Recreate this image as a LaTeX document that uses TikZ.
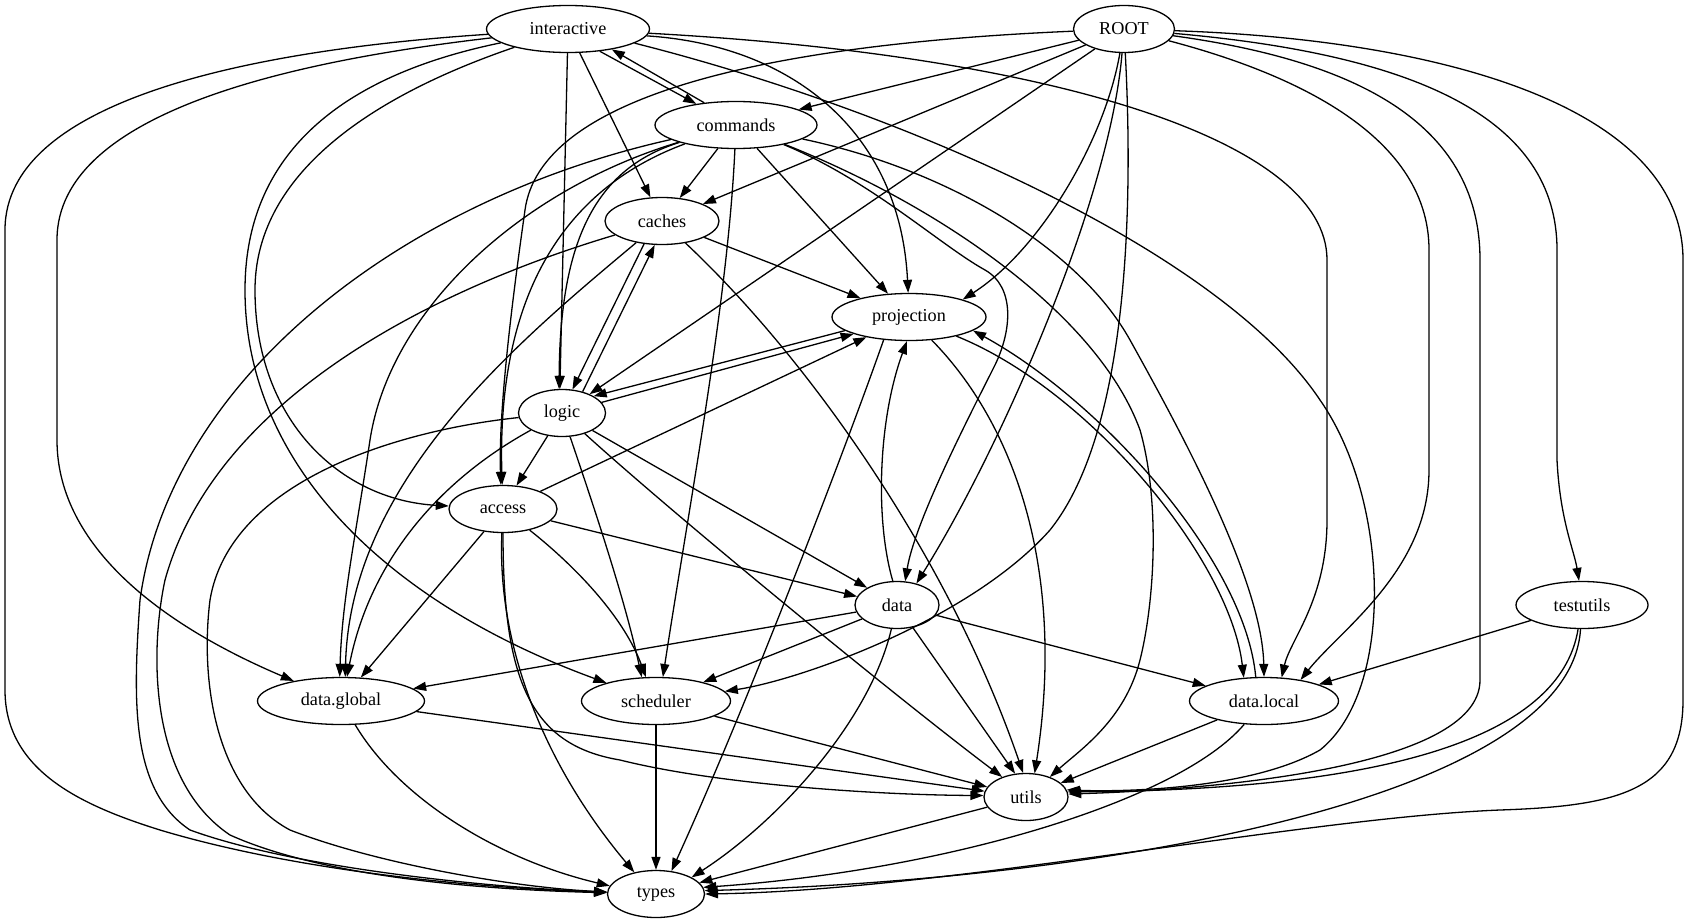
\documentclass[tikz,border=0pt]{standalone}
\usepackage{fontspec}
\setmainfont{Liberation Serif}
\usetikzlibrary{shapes.geometric,arrows.meta}
\begin{document}
\begin{tikzpicture}[x=1pt,y=-1pt,
  nd/.style={draw, ellipse, line width=1.3pt, minimum height=47pt, inner sep=0pt, font=\fontsize{18.2}{22}\selectfont},
  e/.style={line width=1.3pt, -{Triangle[length=13pt,width=9pt]}}]
\useasboundingbox (0,0) rectangle (1691,923);
% nodes
\node[nd, minimum width=163pt] (interactive) at (568,29) {interactive};
\node[nd, minimum width=101pt] (ROOT) at (1124,29) {ROOT};
\node[nd, minimum width=162pt] (commands) at (736,125) {commands};
\node[nd, minimum width=114pt] (caches) at (662,221) {caches};
\node[nd, minimum width=154pt] (projection) at (909,317) {projection};
\node[nd, minimum width=87pt] (logic) at (562,413) {logic};
\node[nd, minimum width=108pt] (access) at (503,509) {access};
\node[nd, minimum width=84pt] (data) at (897,605) {data};
\node[nd, minimum width=132pt] (testutils) at (1582,605) {testutils};
\node[nd, minimum width=167pt] (dglobal) at (341,701) {data.global};
\node[nd, minimum width=149pt] (scheduler) at (656,701) {scheduler};
\node[nd, minimum width=149pt] (dlocal) at (1264,701) {data.local};
\node[nd, minimum width=84pt] (utils) at (1026,797) {utils};
\node[nd, minimum width=97pt] (types) at (656,894) {types};
% interactive
\draw[e] (interactive) .. controls (250,50) and (5,100) .. (5,230) -- (5,690) .. controls (5,770) and (80,805) .. (160,830) .. controls (300,872) and (480,888) .. (types);
\draw[e] (interactive) .. controls (300,60) and (57,110) .. (57,240) -- (57,440) .. controls (57,540) and (150,620) .. (dglobal);
\draw[e] (interactive) .. controls (360,100) and (255,180) .. (255,290) .. controls (255,420) and (340,500) .. (access);
\draw[e] (interactive) .. controls (320,80) and (245,170) .. (245,290) .. controls (245,460) and (380,600) .. (scheduler);
\draw[e] (interactive) -- (logic.95);
\draw[e] (interactive) -- (caches);
\draw[e] (interactive.-35) -- (commands.152);
\draw[e] (commands.145) -- (interactive.-25);
\draw[e] (interactive.-5) .. controls (790,45) and (900,130) .. (projection.92);
\draw[e] (interactive.-3) .. controls (1050,55) and (1327,140) .. (1327,260) -- (1327,520) .. controls (1327,600) and (1290,640) .. (dlocal.53);
\draw[e] (interactive.-12) .. controls (900,110) and (1220,250) .. (1320,400) .. controls (1390,500) and (1395,690) .. (1320,750) .. controls (1250,790) and (1120,792) .. (utils.10);
% ROOT
\draw[e] (ROOT) -- (commands);
\draw[e] (ROOT) -- (caches);
\draw[e] (ROOT) .. controls (750,45) and (540,100) .. (525,210) .. controls (518,260) and (498,400) .. (access.95);
\draw[e] (ROOT) -- (logic);
\draw[e] (ROOT) .. controls (1105,140) and (1040,250) .. (projection.18);
\draw[e] (ROOT) .. controls (1110,200) and (1000,450) .. (data.48);
\draw[e] (ROOT) .. controls (1133,200) and (1130,430) .. (1050,530) .. controls (970,620) and (800,680) .. (scheduler.8);
\draw[e] (ROOT) .. controls (1280,70) and (1429,130) .. (1429,250) -- (1429,470) .. controls (1429,570) and (1340,630) .. (dlocal.30);
\draw[e] (ROOT) .. controls (1350,60) and (1480,120) .. (1480,260) -- (1480,680) .. controls (1480,770) and (1200,790) .. (utils.4);
\draw[e] (ROOT) .. controls (1420,55) and (1557,120) .. (1557,250) -- (1557,460) .. controls (1560,520) and (1574,550) .. (testutils.97);
\draw[e] (ROOT) .. controls (1450,40) and (1683,110) .. (1683,260) -- (1683,700) .. controls (1683,790) and (1620,806) .. (1500,810) .. controls (1300,818) and (950,890) .. (types.0);
% commands
\draw[e] (commands) -- (caches);
\draw[e] (commands) .. controls (400,200) and (170,380) .. (140,600) .. controls (133,700) and (130,790) .. (190,830) .. controls (300,870) and (500,888) .. (types);
\draw[e] (commands) .. controls (520,190) and (390,310) .. (370,440) .. controls (355,540) and (342,600) .. (dglobal.93);
\draw[e] (commands) .. controls (560,190) and (497,300) .. (access.92);
\draw[e] (commands) .. controls (590,170) and (560,250) .. (logic.97);
\draw[e] (commands) .. controls (728,300) and (690,500) .. (scheduler.74);
\draw[e] (commands) -- (projection);
\draw[e] (commands) .. controls (870,180) and (940,245) .. (985,270) .. controls (1015,287) and (1012,330) .. (995,365) .. controls (975,405) and (915,520) .. (data.71);
\draw[e] (commands) .. controls (950,210) and (1100,320) .. (1140,430) .. controls (1160,500) and (1155,600) .. (1140,660) .. controls (1125,720) and (1080,750) .. (utils.40);
\draw[e] (commands) .. controls (950,170) and (1080,250) .. (1130,340) .. controls (1180,430) and (1262,580) .. (dlocal.90);
% caches
\draw[e] (caches) -- (projection);
\draw[e] (caches.-128) -- (logic.66);
\draw[e] (logic.46) -- (caches.-107);
\draw[e] (caches) .. controls (520,340) and (350,480) .. (dglobal.80);
\draw[e] (caches) .. controls (430,290) and (215,400) .. (165,580) .. controls (150,650) and (148,780) .. (230,835) .. controls (330,880) and (500,890) .. (types);
\draw[e] (caches) .. controls (810,360) and (950,560) .. (utils.97);
% projection
\draw[e] (projection.-138) .. controls (845,450) and (745,710) .. (types.56);
\draw[e] (projection) .. controls (1020,430) and (1065,580) .. (utils.70);
\draw[e] (projection.-22) .. controls (1090,390) and (1230,560) .. (dlocal.131);
\draw[e] (projection.-168) -- (logic.28);
% logic
\draw[e] (logic.15) -- (projection.-163);
\draw[e] (logic) -- (access.60);
\draw[e] (logic) .. controls (440,480) and (370,560) .. (dglobal.76);
\draw[e] (logic) .. controls (400,430) and (230,480) .. (210,600) .. controls (200,680) and (215,790) .. (290,830) .. controls (380,865) and (520,888) .. (types);
\draw[e] (logic) .. controls (595,510) and (625,600) .. (scheduler.121);
\draw[e] (logic) .. controls (680,520) and (900,700) .. (utils.140);
\draw[e] (logic) -- (data.150);
% access
\draw[e] (access) -- (projection);
\draw[e] (access) -- (data.168);
\draw[e] (access) -- (dglobal);
\draw[e] (access) .. controls (580,570) and (625,620) .. (scheduler.113);
\draw[e] (access) .. controls (497,640) and (540,760) .. (types.135);
\draw[e] (access) .. controls (503,680) and (530,745) .. (620,760) .. controls (720,785) and (880,795) .. (utils.178);
% data
\draw[e] (data.100) .. controls (875,520) and (878,420) .. (projection.-95);
\draw[e] (data) -- (dglobal);
\draw[e] (data) -- (scheduler);
\draw[e] (data) -- (utils.115);
\draw[e] (data) .. controls (870,720) and (780,820) .. (types.25);
\draw[e] (data) -- (dlocal);
% data.global
\draw[e] (dglobal) -- (utils);
\draw[e] (dglobal) .. controls (400,800) and (500,860) .. (types.170);
% scheduler
\draw[e] (scheduler) -- (utils);
\draw[e] (scheduler) -- (types);
% data.local
\draw[e] (dlocal) -- (utils);
\draw[e] (dlocal) .. controls (1180,800) and (950,870) .. (types.8);
\draw[e] (dlocal.109) .. controls (1245,560) and (1100,400) .. (projection.-12);
% testutils
\draw[e] (testutils) -- (dlocal);
\draw[e] (testutils) .. controls (1560,740) and (1380,790) .. (utils.7);
\draw[e] (testutils) .. controls (1570,800) and (1100,880) .. (types.4);
% utils
\draw[e] (utils) -- (types);
\end{tikzpicture}
\end{document}
